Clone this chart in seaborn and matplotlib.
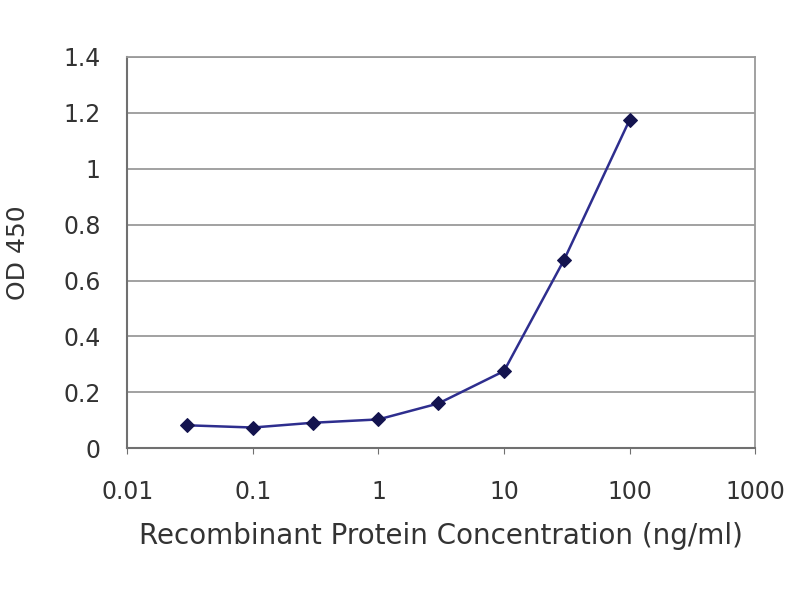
import matplotlib
matplotlib.use("Agg")
import matplotlib.pyplot as plt
import seaborn as sns
import pandas as pd
from matplotlib.ticker import FixedLocator, FixedFormatter, NullLocator

# data
concentration = [0.03, 0.1, 0.3, 1, 3, 10, 30, 100]
od450 = [0.082, 0.074, 0.091, 0.103, 0.16, 0.276, 0.673, 1.175]
x_ticks = [0.01, 0.1, 1, 10, 100, 1000]
x_tick_labels = ["0.01", "0.1", "1", "10", "100", "1000"]
y_ticks = [0, 0.2, 0.4, 0.6, 0.8, 1, 1.2, 1.4]
y_tick_labels = ["0", "0.2", "0.4", "0.6", "0.8", "1", "1.2", "1.4"]

df = pd.DataFrame({"conc": concentration, "od": od450})

sns.set_style("white")
plt.rcParams["font.family"] = ["DejaVu Sans"]

fig = plt.figure(figsize=(8, 6), dpi=100)
ax = fig.add_axes([0.159, 0.253, 0.785, 0.652])

sns.lineplot(data=df, x="conc", y="od", ax=ax, color="#2e2e8e", linewidth=1.8,
             marker="D", markersize=7, markerfacecolor="#14144f",
             markeredgecolor="#14144f")

ax.set_xscale("log")
ax.set_xlim(0.01, 1000)
ax.set_ylim(0, 1.4)
ax.xaxis.set_major_locator(FixedLocator(x_ticks))
ax.xaxis.set_major_formatter(FixedFormatter(x_tick_labels))
ax.xaxis.set_minor_locator(NullLocator())
ax.yaxis.set_major_locator(FixedLocator(y_ticks))
ax.yaxis.set_major_formatter(FixedFormatter(y_tick_labels))

ax.grid(axis="y", color="#9a9a9a", linewidth=1.3)
ax.grid(axis="x", visible=False)

for side in ["left", "bottom"]:
    ax.spines[side].set_color("#707070")
    ax.spines[side].set_linewidth(1.5)
for side in ["top", "right"]:
    ax.spines[side].set_color("#9a9a9a")
    ax.spines[side].set_linewidth(1.3)

ax.tick_params(axis="x", direction="out", length=4, color="#707070", pad=19,
               labelsize=17, labelcolor="#333333")
ax.tick_params(axis="y", length=0, pad=19, labelsize=17, labelcolor="#333333")
ax.tick_params(bottom=True, left=False)

ax.set_xlabel("Recombinant Protein Concentration (ng/ml)", fontsize=20,
              color="#333333", labelpad=13)
ax.set_ylabel("OD 450", fontsize=18, color="#333333", labelpad=24)

fig.savefig("out.png", dpi=100, facecolor="white")
